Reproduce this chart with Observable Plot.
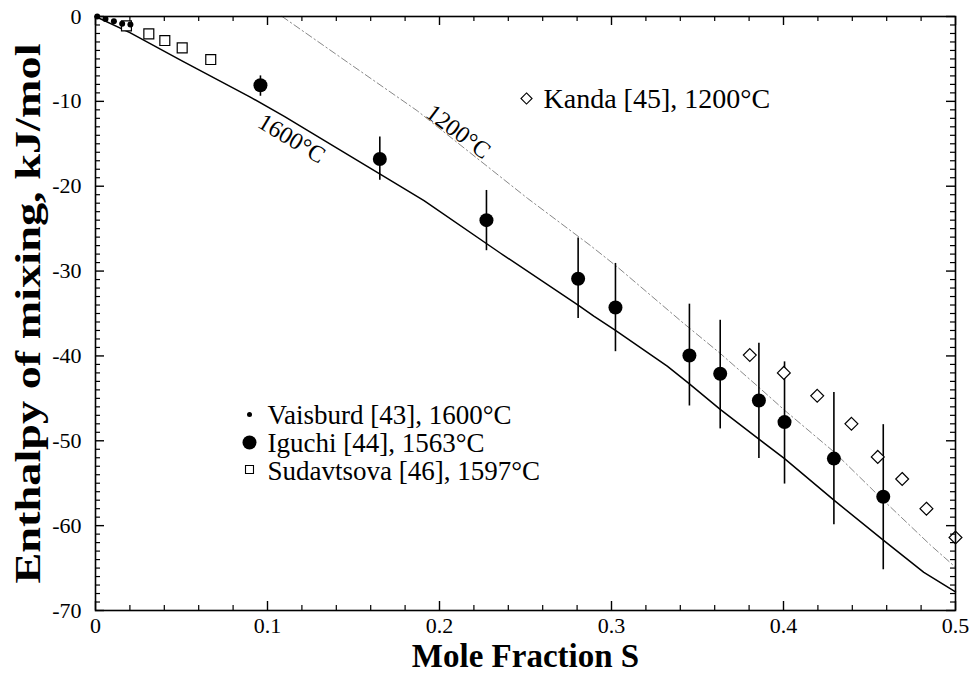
<!DOCTYPE html>
<html>
<head>
<meta charset="utf-8">
<script src="https://cdn.jsdelivr.net/npm/d3@7"></script>
<script src="https://cdn.jsdelivr.net/npm/@observablehq/plot@0.6"></script>
<style>
  html, body { margin: 0; padding: 0; background: white; }
  #chart { width: 971px; height: 675px; }
</style>
</head>
<body>
<div id="chart"></div>
<script>
// ---- Data ----
// Calculated curve, 1600°C (solid)
const calc1600X = [0, 0.02, 0.05, 0.09, 0.11, 0.123, 0.1715, 0.191, 0.2355, 0.2806, 0.2897, 0.3023, 0.3324, 0.3453, 0.3632, 0.3857, 0.4006, 0.4293, 0.458, 0.4816, 0.5];
const calc1600Y = [0, -1.9, -5.2, -9.5, -11.8, -13.4, -19.3, -21.7, -27.9, -34.0, -35.3, -37.0, -41.2, -43.3, -46.3, -49.8, -52.1, -57.0, -61.7, -65.5, -67.8];
// Calculated curve, 1200°C (dash-dot)
const calc1200X = [0.1085, 0.148, 0.187, 0.251, 0.2878, 0.3033, 0.341, 0.3632, 0.3857, 0.4006, 0.4293, 0.458, 0.4855, 0.5];
const calc1200Y = [0, -5.6, -11.1, -21.4, -27.0, -29.5, -36.0, -39.7, -43.7, -46.4, -51.3, -57.0, -62.3, -64.9];
// Iguchi [44], 1563°C with error bars
const iguchiX  = [0.0959, 0.1653, 0.2273, 0.2806, 0.3023, 0.3453, 0.3632, 0.3857, 0.4006, 0.4293, 0.458];
const iguchiY  = [-8.1, -16.8, -24.0, -30.9, -34.3, -39.95, -42.1, -45.25, -47.8, -52.1, -56.6];
const iguchiHi = [-7.0, -14.2, -20.5, -26.1, -29.1, -33.9, -35.8, -38.5, -40.7, -44.3, -48.1];
const iguchiLo = [-9.4, -19.3, -27.6, -35.6, -39.5, -45.9, -48.6, -52.1, -55.1, -59.9, -65.2];
// Kanda [45], 1200°C
const kandaX = [0.3804, 0.4002, 0.4196, 0.4395, 0.4548, 0.469, 0.4831, 0.5];
const kandaY = [-39.9, -42.0, -44.7, -48.0, -51.9, -54.5, -58.0, -61.4];
// Sudavtsova [46], 1597°C
const sudX = [0.018, 0.031, 0.0403, 0.0504, 0.067];
const sudY = [-1.1, -2.05, -2.83, -3.7, -5.07];
// Vaisburd [43], 1600°C
const vaisX = [0.001, 0.0058, 0.0107, 0.0155, 0.0203];
const vaisY = [0, -0.3, -0.55, -0.86, -0.94];

// Ticks
const xMajor = [0, 0.1, 0.2, 0.3, 0.4, 0.5];
const xMinor = [0.02, 0.04, 0.06, 0.08, 0.12, 0.14, 0.16, 0.18, 0.22, 0.24, 0.26, 0.28, 0.32, 0.34, 0.36, 0.38, 0.42, 0.44, 0.46, 0.48];
const yMajor = [0, -10, -20, -30, -40, -50, -60, -70];
const yMinor = d3.range(-69, 0, 1).filter(v => v % 10 !== 0);

// Texts
const xTitle = "Mole Fraction S";
const yTitle = "Enthalpy of mixing, kJ/mol";
const curveLabels = ["1600°C", "1200°C"];
const legendLeft = ["Vaisburd [43], 1600°C", "Iguchi [44], 1563°C", "Sudavtsova [46], 1597°C"];
const legendKanda = "Kanda [45], 1200°C";

// ---- Layout ----
const W = 971, H = 675;
const mL = 95, mR = 16, mT = 16, mB = 65;
const frameW = W - mL - mR, frameH = H - mT - mB;
const majorLen = 9, minorLen = 5;

// ---- Build tables ----
const line1600 = calc1600X.map((x, i) => ({x, y: calc1600Y[i]}));
const line1200 = calc1200X.map((x, i) => ({x, y: calc1200Y[i]}));
const iguchi = iguchiX.map((x, i) => ({x, y: iguchiY[i], hi: iguchiHi[i], lo: iguchiLo[i]}));
const kanda = kandaX.map((x, i) => ({x, y: kandaY[i]}));
const sud = sudX.map((x, i) => ({x, y: sudY[i]}));
const vais = vaisX.map((x, i) => ({x, y: vaisY[i]}));

const serif = "Liberation Serif";
const fmt = d => String(d);

function xTicks(data, len, sw) {
  return [
    Plot.ruleX(data, {x: d => d, insetTop: frameH - len, stroke: "black", strokeWidth: sw}),
    Plot.ruleX(data, {x: d => d, insetBottom: frameH - len, stroke: "black", strokeWidth: sw})
  ];
}
function yTicks(data, len, sw) {
  return [
    Plot.ruleY(data, {y: d => d, insetRight: frameW - len, stroke: "black", strokeWidth: sw}),
    Plot.ruleY(data, {y: d => d, insetLeft: frameW - len, stroke: "black", strokeWidth: sw})
  ];
}

const chart = Plot.plot({
  width: W,
  height: H,
  marginLeft: mL,
  marginRight: mR,
  marginTop: mT,
  marginBottom: mB,
  x: {domain: [0, 0.5], axis: null},
  y: {domain: [-70, 0], axis: null},
  style: {fontFamily: serif, background: "white", color: "black", overflow: "visible"},
  marks: [
    // curves
    Plot.line(line1600, {x: "x", y: "y", stroke: "black", strokeWidth: 1.5}),
    Plot.line(line1200, {x: "x", y: "y", stroke: "#888", strokeWidth: 1, strokeDasharray: "7,3,1.5,3"}),
    // error bars
    Plot.ruleX(iguchi, {x: "x", y1: "lo", y2: "hi", stroke: "black", strokeWidth: 1.6}),
    // symbols
    Plot.dot(iguchi, {x: "x", y: "y", r: 7, fill: "black", stroke: "none"}),
    Plot.dot(kanda, {x: "x", y: "y", r: 5.8, symbol: "diamond2", fill: "white", stroke: "black", strokeWidth: 1.2}),
    Plot.dot(sud, {x: "x", y: "y", r: 5.6, symbol: "square", fill: "white", stroke: "black", strokeWidth: 1.2}),
    Plot.dot(vais, {x: "x", y: "y", r: 3, fill: "black", stroke: "none"}),
    // curve labels
    Plot.text([line1600[4]], {x: "x", y: "y", text: () => curveLabels[0], rotate: 31, dx: 7, dy: 22, fontSize: 24, fontFamily: serif}),
    Plot.text([line1200[2]], {x: "x", y: "y", text: () => curveLabels[1], rotate: 37, dx: 41, dy: 21, fontSize: 24, fontFamily: serif}),
    // frame
    Plot.frame({stroke: "black", strokeWidth: 1.6}),
    // inward ticks on all four sides
    ...xTicks(xMinor, minorLen, 1.2),
    ...xTicks(xMajor, majorLen, 1.4),
    ...yTicks(yMinor, minorLen, 1.2),
    ...yTicks(yMajor, majorLen, 1.4),
    // tick labels
    Plot.axisX(xMajor, {anchor: "bottom", tickSize: 0, tickPadding: 7, tickFormat: fmt, fontSize: 22, fontFamily: serif, label: null}),
    Plot.axisY(yMajor, {anchor: "left", tickSize: 0, tickPadding: 14, tickFormat: fmt, fontSize: 22, fontFamily: serif, label: null}),
    // axis titles
    Plot.text([xTitle], {frameAnchor: "bottom", dy: 46, lineAnchor: "middle", textAnchor: "middle", fontSize: 33, fontWeight: "bold", fontFamily: serif}),
    Plot.text([yTitle], {frameAnchor: "left", dx: -67, rotate: -90, lineAnchor: "middle", textAnchor: "middle", fontSize: 36, fontWeight: "bold", fontFamily: serif}),
    // legend (left block)
    Plot.dot([0], {frameAnchor: "top-left", dx: 154, dy: 398, r: 2.5, fill: "black", stroke: "none"}),
    Plot.dot([0], {frameAnchor: "top-left", dx: 154, dy: 426, r: 7, fill: "black", stroke: "none"}),
    Plot.dot([0], {frameAnchor: "top-left", dx: 154, dy: 453, r: 4.5, symbol: "square", fill: "white", stroke: "black", strokeWidth: 1.1}),
    Plot.text([legendLeft[0]], {frameAnchor: "top-left", dx: 172, dy: 399, textAnchor: "start", lineAnchor: "middle", fontSize: 27, fontFamily: serif}),
    Plot.text([legendLeft[1]], {frameAnchor: "top-left", dx: 172, dy: 427, textAnchor: "start", lineAnchor: "middle", fontSize: 27, fontFamily: serif}),
    Plot.text([legendLeft[2]], {frameAnchor: "top-left", dx: 172, dy: 455, textAnchor: "start", lineAnchor: "middle", fontSize: 27, fontFamily: serif}),
    // legend (Kanda)
    Plot.dot([0], {frameAnchor: "top-left", dx: 431, dy: 82, r: 5, symbol: "diamond2", fill: "white", stroke: "black", strokeWidth: 1.1}),
    Plot.text([legendKanda], {frameAnchor: "top-left", dx: 448, dy: 83, textAnchor: "start", lineAnchor: "middle", fontSize: 28, fontFamily: serif})
  ]
});
// stretch the y title along its axis to match the reference's long, condensed title
d3.select(chart).selectAll("text").filter(function () { return this.textContent === yTitle; })
  .attr("textLength", 540).attr("lengthAdjust", "spacingAndGlyphs");
document.getElementById("chart").appendChild(chart);
</script>
</body>
</html>
